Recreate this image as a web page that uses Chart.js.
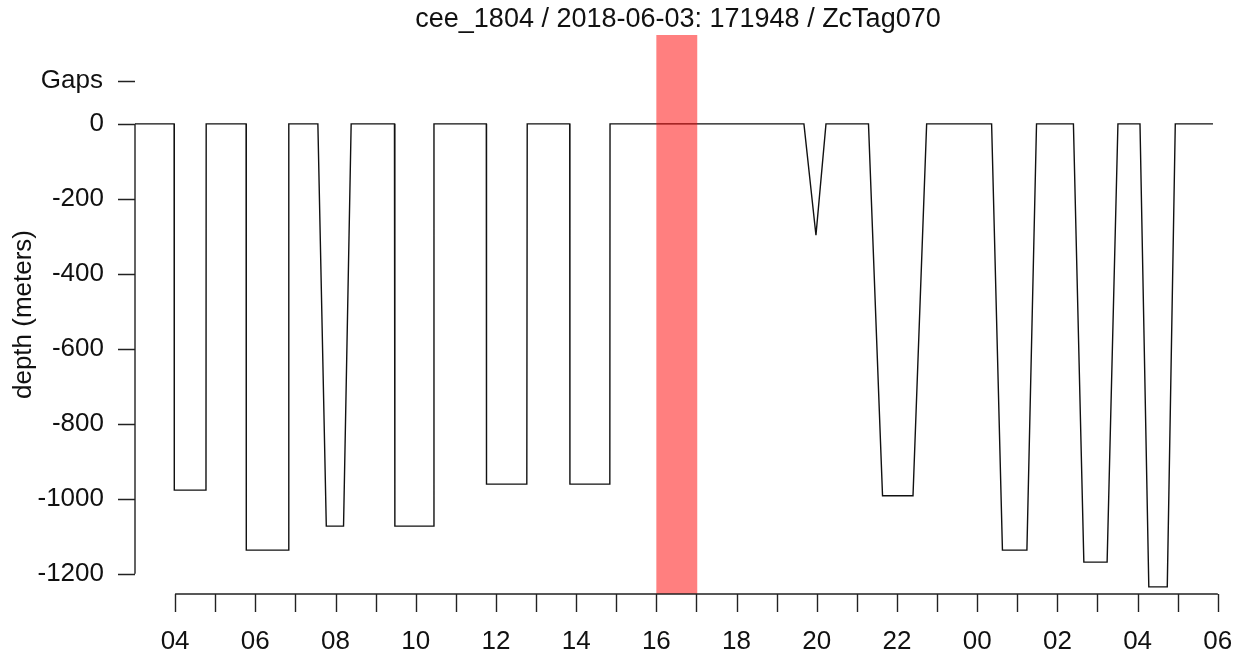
<!DOCTYPE html>
<html>
<head>
<meta charset="utf-8">
<title>cee_1804 depth</title>
<script src="https://cdn.jsdelivr.net/npm/chart.js@4/dist/chart.umd.min.js"></script>
<style>
  html, body { margin: 0; padding: 0; background: #fff; }
  #wrap { width: 1244px; height: 660px; position: relative; }
</style>
</head>
<body>
<div id="wrap"><canvas id="depthChart"></canvas></div>
<script>
'use strict';

// ── Data (hours since 00:00 on 2018-06-03, depth in meters) ──────
const titleText = 'cee_1804 / 2018-06-03: 171948 / ZcTag070';
const depthHours = [3.0, 3.975, 3.98, 4.77, 4.775, 5.77, 5.775, 6.83, 6.835, 7.56,
    7.77, 8.20, 8.39, 9.47, 9.48, 10.45, 10.455, 11.76, 11.765, 12.77,
    12.78, 13.84, 13.845, 14.84, 14.845, 19.68, 19.98, 20.23, 21.29, 21.64,
    22.40, 22.74, 24.36, 24.63, 25.24, 25.48, 26.40, 26.66, 27.24, 27.51,
    28.06, 28.28, 28.74, 28.94, 29.88];
const depthMeters = [0, 0, -977, -977, 0, 0, -1137, -1137, 0, 0,
    -1073, -1073, 0, 0, -1073, -1073, 0, 0, -961, -961,
    0, 0, -961, -961, 0, 0, -297, 0, 0, -992,
    -992, 0, 0, -1137, -1137, 0, 0, -1169, -1169, 0,
    0, -1235, -1235, 0, 0];
const gapStart = 16.0;
const gapEnd = 17.02;
const xTickHours = [4, 5, 6, 7, 8, 9, 10, 11, 12, 13, 14, 15, 16, 17, 18, 19, 20, 21, 22, 23, 24, 25, 26, 27, 28, 29, 30];
const yTicks = [0, -200, -400, -600, -800, -1000, -1200];
const gapsTickValue = 115;

const FONT = '"Liberation Sans", Arial, sans-serif';

function hourLabel(h) {
    return String(h % 24).padStart(2, '0');
}

// ── R-style axes, title and the gap band ─────────────────────────
const baseAxes = {
    id: 'baseAxes',
    afterDatasetsDraw(chart) {
        const { ctx, chartArea: area, scales: { x, y } } = chart;
        ctx.save();

        // gap band (drawn over the line, semi transparent)
        ctx.fillStyle = 'rgba(255,0,0,0.5)';
        const gx0 = x.getPixelForValue(gapStart);
        const gx1 = x.getPixelForValue(gapEnd);
        ctx.fillRect(gx0, area.top, gx1 - gx0, area.bottom - area.top);

        ctx.strokeStyle = '#222';
        ctx.fillStyle = '#111';
        ctx.lineWidth = 1.4;
        ctx.font = '26px ' + FONT;

        // x axis
        const axY = area.bottom;
        const xa = x.getPixelForValue(xTickHours[0]);
        const xb = x.getPixelForValue(xTickHours[xTickHours.length - 1]);
        ctx.beginPath();
        ctx.moveTo(xa, axY); ctx.lineTo(xb, axY);
        xTickHours.forEach(h => {
            const px = Math.round(x.getPixelForValue(h)) + 0.5;
            ctx.moveTo(px, axY); ctx.lineTo(px, axY + 18);
        });
        ctx.stroke();
        ctx.textAlign = 'center';
        ctx.textBaseline = 'middle';
        xTickHours.forEach(h => {
            if (h % 2 === 0) ctx.fillText(hourLabel(h), x.getPixelForValue(h), axY + 48);
        });

        // y axis
        const axX = area.left;
        ctx.beginPath();
        ctx.moveTo(axX, y.getPixelForValue(yTicks[0]));
        ctx.lineTo(axX, y.getPixelForValue(yTicks[yTicks.length - 1]));
        yTicks.concat([gapsTickValue]).forEach(v => {
            const py = Math.round(y.getPixelForValue(v)) + 0.5;
            ctx.moveTo(axX, py); ctx.lineTo(axX - 17, py);
        });
        ctx.stroke();
        ctx.textAlign = 'right';
        yTicks.forEach(v => ctx.fillText(String(v), axX - 31, y.getPixelForValue(v)));
        ctx.fillText('Gaps', axX - 32, y.getPixelForValue(gapsTickValue));

        // y title
        ctx.save();
        ctx.translate(24, (area.top + area.bottom) / 2);
        ctx.rotate(-Math.PI / 2);
        ctx.textAlign = 'center';
        ctx.fillText('depth (meters)', 0, 0);
        ctx.restore();

        // main title
        ctx.font = '27px ' + FONT;
        ctx.textAlign = 'center';
        ctx.fillText(titleText, (area.left + area.right) / 2, 20);

        ctx.restore();
    }
};

new Chart(document.getElementById('depthChart'), {
    type: 'line',
    data: {
        datasets: [{
            data: depthHours.map((h, i) => ({ x: h, y: depthMeters[i] })),
            borderColor: '#111',
            borderWidth: 1.4,
            pointRadius: 0,
            tension: 0,
            fill: false,
            clip: false,
        }]
    },
    options: {
        responsive: true,
        maintainAspectRatio: false,
        animation: false,
        layout: { padding: { left: 135, right: 23, top: 35, bottom: 66 } },
        plugins: { legend: { display: false }, tooltip: { enabled: false }, title: { display: false } },
        scales: {
            x: { type: 'linear', min: 3.0, max: 30.08, display: false },
            y: { type: 'linear', min: -1254, max: 237, display: false }
        }
    },
    plugins: [baseAxes]
});
</script>
</body>
</html>
